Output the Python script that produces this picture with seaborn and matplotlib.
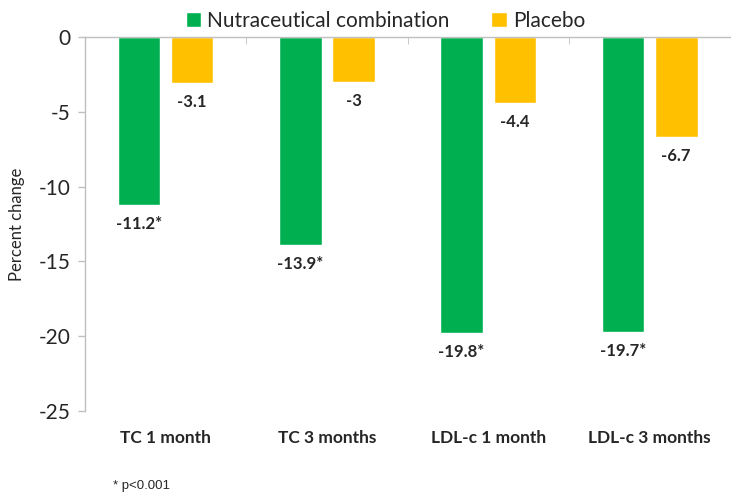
import pandas as pd
import seaborn as sns
import matplotlib.pyplot as plt

# Données
categories = ['TC 1 month', 'TC 3 months', 'LDL-c 1 month', 'LDL-c 3 months']
nutra = [-11.2, -13.9, -19.8, -19.7]
placebo = [-3.1, -3.0, -4.4, -6.7]
nutra_labels = ['-11.2*', '-13.9*', '-19.8*', '-19.7*']
placebo_labels = ['-3.1', '-3', '-4.4', '-6.7']
groups = ['Nutraceutical combination', 'Placebo']

df = pd.DataFrame({
    'cat': categories * 2,
    'val': nutra + placebo,
    'grp': [groups[0]] * 4 + [groups[1]] * 4,
    'lab': nutra_labels + placebo_labels,
})

sns.set_style('white')
plt.rcParams['font.family'] = ['Lato', 'DejaVu Sans']

fig = plt.figure(figsize=(7.31, 5.0), dpi=100)
ax = fig.add_axes([0.116, 0.178, 0.883, 0.748])

sns.barplot(data=df, x='cat', y='val', hue='grp', order=categories,
            hue_order=groups, palette=['#00B050', '#FFC000'],
            width=0.66, gap=0.2, saturation=1, ax=ax, errorbar=None)

# étiquettes sous les barres
for cont, labs in zip(ax.containers, [nutra_labels, placebo_labels]):
    ax.bar_label(cont, labels=labs, padding=8, fontsize=12, fontweight='bold')

ax.set_ylim(-25, 0)
ax.set_xlim(-0.5, 3.5)
ax.set_yticks([0, -5, -10, -15, -20, -25])
ax.set_yticklabels(['0', '-5', '-10', '-15', '-20', '-25'], fontsize=15)
ax.set_xticks(range(4))
ax.set_xticklabels(categories, fontsize=12.5, fontweight='bold')
ax.tick_params(axis='x', length=0, pad=14)
ax.tick_params(axis='y', length=5, width=1, color='#BFBFBF', left=True, pad=5)
ax.set_xticks([0.5, 1.5, 2.5], minor=True)
ax.tick_params(axis='x', which='minor', top=True, bottom=False,
               direction='in', length=5, color='#BFBFBF')

ax.set_xlabel('')
ax.set_ylabel('Percent change', fontsize=12, labelpad=10)

for s in ['right', 'bottom']:
    ax.spines[s].set_visible(False)
for s in ['left', 'top']:
    ax.spines[s].set_color('#BFBFBF')
    ax.spines[s].set_linewidth(1)

ax.legend(loc='lower center', bbox_to_anchor=(0.466, 0.995), ncol=2,
          frameon=False, fontsize=15, handlelength=0.75, handleheight=0.75,
          handletextpad=0.3, columnspacing=2.0, borderaxespad=0)

fig.text(0.155, 0.022, '* p<0.001', fontsize=9.5,
         family=['Liberation Sans Narrow', 'Liberation Sans', 'DejaVu Sans'])

plt.savefig('out.png', dpi=100)
